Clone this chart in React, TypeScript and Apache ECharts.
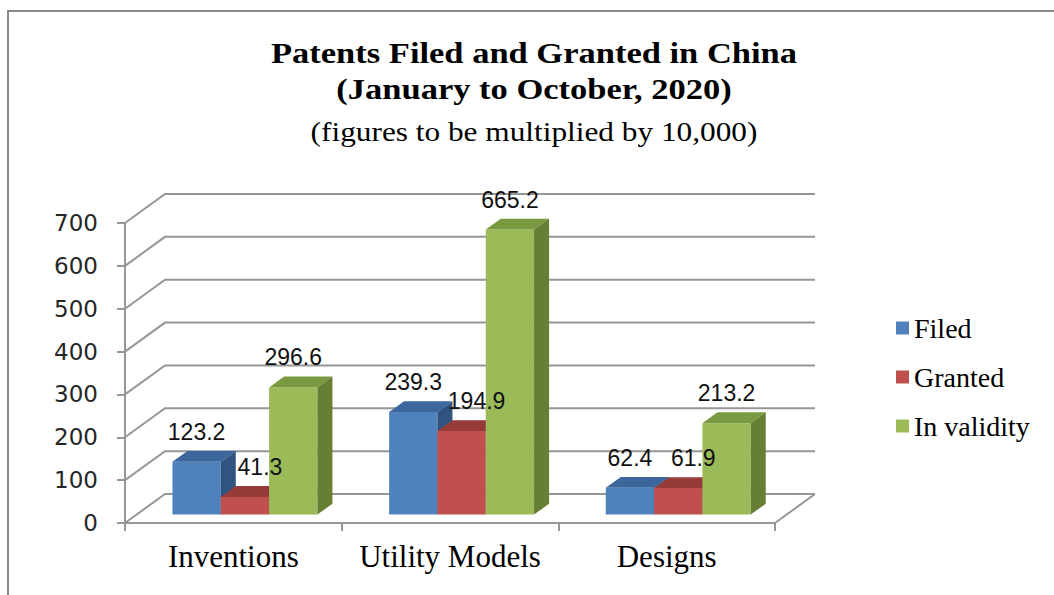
import React, { useEffect, useRef } from "react";
import * as echarts from "echarts";

// ---- data ----
const categories = ["Inventions", "Utility Models", "Designs"];
const seriesNames = ["Filed", "Granted", "In validity"];
const filed = [123.2, 239.3, 62.4];
const granted = [41.3, 194.9, 61.9];
const inValidity = [296.6, 665.2, 213.2];
const yTicks = [0, 100, 200, 300, 400, 500, 600, 700];
const titleLines = [
  "Patents Filed and Granted in China",
  "(January to October, 2020)",
  "(figures to be multiplied by 10,000)",
];

// ---- styling ----
const FRONT = ["#4F81BD", "#C0504D", "#9BBB59"];
const TOP = ["#3B679C", "#963B39", "#7A9A42"];
const SIDE = ["#2F5480", "#86302E", "#677F35"];
const DEPTH_X = 40;
const DEPTH_Y = 29;
const F1 = 0.29;
const F2 = 0.665;
const BAR_FRAC = 0.223;
const LABEL_DX = [0, 15, 0];
const LABEL_DY = 30;
const WALL = "#969696";

function barGeom(s: number, api: any) {
  const i = api.value(0);
  const v = api.value(1);
  const base = api.coord([i, 0]);
  const top = api.coord([i, v]);
  const band = api.size([1, 0])[0];
  const bw = band * BAR_FRAC;
  const x0 = base[0] - 1.5 * bw + s * bw + DEPTH_X * F1;
  const x1 = x0 + bw;
  const yb = base[1] - DEPTH_Y * F1;
  const yt = top[1] - DEPTH_Y * F1;
  return { x0, x1, yb, yt, bw, v };
}

function makeBarSeries(s: number, values: number[]) {
  return {
    type: "custom",
    name: seriesNames[s],
    coordinateSystem: "cartesian2d",
    itemStyle: { color: FRONT[s] },
    data: values.map((v, i) => [i, v]),
    encode: { x: 0, y: 1 },
    z: 3,
    silent: true,
    renderItem: (params: any, api: any) => {
      const { x0, x1, yb, yt } = barGeom(s, api);
      const dx = DEPTH_X * (F2 - F1);
      const dy = -DEPTH_Y * (F2 - F1);
      return {
        type: "group",
        children: [
          {
            type: "polygon",
            shape: { points: [[x0, yb], [x0, yt], [x1, yt], [x1, yb]] },
            style: { fill: FRONT[s] },
          },
          {
            type: "polygon",
            shape: { points: [[x0, yt], [x1, yt], [x1 + dx, yt + dy], [x0 + dx, yt + dy]] },
            style: { fill: TOP[s] },
          },
          {
            type: "polygon",
            shape: { points: [[x1, yt], [x1 + dx, yt + dy], [x1 + dx, yb + dy], [x1, yb]] },
            style: { fill: SIDE[s] },
          },
        ],
      };
    },
  };
}

function makeLabelSeries(s: number, values: number[]) {
  return {
    type: "custom",
    coordinateSystem: "cartesian2d",
    data: values.map((v, i) => [i, v]),
    encode: { x: 0, y: 1 },
    z: 6,
    silent: true,
    renderItem: (params: any, api: any) => {
      const { x0, bw, yt, v } = barGeom(s, api);
      return {
        type: "text",
        style: {
          text: Number(v).toFixed(1),
          x: x0 + bw / 2 + LABEL_DX[s],
          y: yt - LABEL_DY,
          align: "center",
          verticalAlign: "middle",
          textAlign: "center",
          textVerticalAlign: "middle",
          fill: "#111",
          fontSize: 23,
          fontFamily: "Liberation Sans",
        },
      };
    },
  };
}

const wallSeries = {
  type: "custom",
  coordinateSystem: "cartesian2d",
  data: yTicks.map((v) => [0, v]),
  encode: { x: 0, y: 1 },
  z: 1,
  silent: true,
  renderItem: (params: any, api: any) => {
    const cs = params.coordSys;
    const v = api.value(1);
    const y = api.coord([0, v])[1];
    const left = cs.x;
    const right = cs.x + cs.width;
    const children: any[] = [
      {
        type: "polyline",
        shape: {
          points: [
            [left, y],
            [left + DEPTH_X, y - DEPTH_Y],
            [right + DEPTH_X, y - DEPTH_Y],
          ],
        },
        style: { stroke: WALL, lineWidth: 2, fill: "none" },
      },
    ];
    if (v === 0) {
      children.push({
        type: "line",
        shape: { x1: right, y1: y, x2: right + DEPTH_X, y2: y - DEPTH_Y },
        style: { stroke: WALL, lineWidth: 2 },
      });
    }
    return { type: "group", children };
  },
};

function titleText(text: string, y: number, bold: boolean, size: number, sx: number) {
  return {
    type: "text",
    x: 534,
    y,
    scaleX: sx,
    silent: true,
    style: {
      text,
      align: "center",
      verticalAlign: "middle",
      textAlign: "center",
      textVerticalAlign: "middle",
      fill: "#000",
      fontSize: size,
      fontWeight: bold ? "bold" : "normal",
      fontFamily: "Liberation Serif",
    },
  };
}

export default function App() {
  const ref = useRef<HTMLDivElement>(null);
  useEffect(() => {
    if (!ref.current) return;
    const chart = echarts.init(ref.current, undefined, { renderer: "svg" });
    chart.setOption({
      animation: false,
      backgroundColor: "#ffffff",
      color: FRONT,
      graphic: [
        {
          type: "rect",
          silent: true,
          shape: { x: 8, y: 11, width: 1300, height: 900 },
          style: { fill: "none", stroke: "#8a8a8a", lineWidth: 2 },
        },
        titleText(titleLines[0], 53, true, 30, 1.15),
        titleText(titleLines[1], 89, true, 30, 1.15),
        titleText(titleLines[2], 132, false, 27, 1.16),
      ],
      legend: {
        data: seriesNames,
        orient: "vertical",
        left: 891,
        top: 309,
        itemWidth: 13,
        itemHeight: 13,
        itemGap: 21,
        icon: "rect",
        selectedMode: false,
        textStyle: { fontFamily: "Liberation Serif", fontSize: 28, color: "#000" },
      },
      grid: {
        left: 125,
        top: 223,
        width: 650,
        height: 300,
        containLabel: false,
        outerBoundsMode: "none",
      },
      xAxis: {
        type: "category",
        data: categories,
        boundaryGap: true,
        axisLine: { show: true, lineStyle: { color: WALL, width: 2 } },
        axisTick: { show: true, alignWithLabel: false, length: 8, lineStyle: { color: WALL, width: 2 } },
        axisLabel: {
          margin: 18,
          fontFamily: "Liberation Serif",
          fontSize: 31,
          color: "#000",
          interval: 0,
        },
        splitLine: { show: false },
      },
      yAxis: {
        type: "value",
        min: 0,
        max: 700,
        interval: 100,
        axisLine: { show: true, lineStyle: { color: WALL, width: 2 } },
        axisTick: { show: true, inside: false, length: 8, lineStyle: { color: WALL, width: 2 } },
        axisLabel: {
          margin: 27,
          fontFamily: "DejaVu Sans",
          fontSize: 23,
          color: "#262626",
          padding: [6, 0, 0, 0],
        },
        splitLine: { show: false },
      },
      series: [
        wallSeries,
        makeBarSeries(0, filed),
        makeBarSeries(1, granted),
        makeBarSeries(2, inValidity),
        makeLabelSeries(0, filed),
        makeLabelSeries(1, granted),
        makeLabelSeries(2, inValidity),
      ],
    });
    return () => chart.dispose();
  }, []);
  return (
    <div
      ref={ref}
      style={{ position: "fixed", left: 0, top: 0, width: 1054, height: 595 }}
    />
  );
}
